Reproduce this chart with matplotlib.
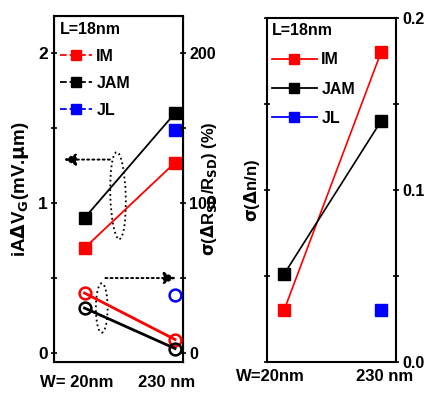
import numpy as np
import matplotlib
matplotlib.use("Agg")
import matplotlib.pyplot as plt
from matplotlib.lines import Line2D
from matplotlib.patches import Ellipse

plt.rcParams['font.family'] = ['Liberation Sans Narrow', 'Liberation Sans', 'DejaVu Sans']
plt.rcParams['font.weight'] = 'bold'
plt.rcParams['mathtext.default'] = 'bf'

# channel width positions and tick labels
w_pos = [0, 1]
left_xlabels = ['W= 20nm', '230 nm']
right_xlabels = ['W=20nm', '230 nm']

# left panel, filled squares: iA dVG (mV.um)
im_avg = [0.70, 1.27]
jam_avg = [0.90, 1.60]
jl_avg = [np.nan, 1.49]

# left panel, open circles: sigma(dRsd/Rsd) (%)
im_rsd = [40, 9]
jam_rsd = [30, 3]
jl_rsd = [np.nan, 39]

# right panel: sigma(dn/n)
im_n = [0.030, 0.180]
jam_n = [0.051, 0.140]
jl_n = [np.nan, 0.030]

series_names = ['IM', 'JAM', 'JL']
colors = ['red', 'black', 'blue']

fig = plt.figure(figsize=(4.26, 3.94), dpi=100)

# ---- left panel ----
ax1 = fig.add_axes([0.1268, 0.0812, 0.3028, 0.878])
for vals, c in zip([im_avg, jam_avg, jl_avg], colors):
    ax1.plot(w_pos, vals, '-', color=c, lw=1.3, marker='s', ms=8.5, mec=c, mfc=c)
ax1.set_xlim(-0.337, 1.088)
ax1.set_ylim(-0.06, 2.247)
ax1.set_yticks([0, 1, 2])
ax1.set_yticks([0.5, 1.5], minor=True)
ax1.set_yticklabels(['0', '1', '2'], fontsize=12.5, fontweight='bold')
ax1.set_xticks([-0.09, 0.91])
ax1.set_xticklabels(left_xlabels, fontsize=12, fontweight='bold')
ax1.tick_params(axis='x', length=0, pad=9)
ax1.tick_params(axis='y', which='both', direction='inout', length=5, width=1.2, pad=2)
ax1.set_ylabel(r'iA$\Delta$V$_G$(mV.$\mu$m)', fontsize=13.5, fontweight='bold', labelpad=5)
for s in ax1.spines.values():
    s.set_linewidth(1.5)

ax1t = ax1.twinx()
for vals, c in zip([im_rsd, jam_rsd, jl_rsd], colors):
    ax1t.plot(w_pos, vals, '-', color=c, lw=2, marker='o', ms=8.5, mec=c,
              mfc='none', mew=1.8)
ax1t.set_ylim(-6, 224.7)
ax1t.set_yticks([0, 100, 200])
ax1t.set_yticks([50, 150], minor=True)
ax1t.set_yticklabels(['0', '100', '200'], fontsize=11.5, fontweight='bold')
ax1t.tick_params(axis='y', which='both', direction='inout', length=5, width=1.2, pad=2)
ax1t.set_ylabel(r'$\sigma$($\Delta$R$_{SD}$/R$_{SD}$) (%)', fontsize=12,
                fontweight='bold', labelpad=-12)

# dotted arrows and ellipses pointing to the relevant axis
arrow_style = dict(arrowstyle='-|>', ls=':', color='black', lw=1.4,
                   mutation_scale=18)
ax1.annotate('', xy=(-0.26, 1.29), xytext=(0.31, 1.29), arrowprops=arrow_style)
ax1.add_patch(Ellipse((0.37, 1.05), 0.17, 0.58, angle=3, fill=False, ls=':',
                      lw=1.3, color='black'))
ax1.annotate('', xy=(1.04, 0.50), xytext=(0.20, 0.50), arrowprops=arrow_style)
ax1.add_patch(Ellipse((0.19, 0.30), 0.13, 0.33, angle=0, fill=False, ls=':',
                      lw=1.3, color='black'))

handles = [Line2D([], [], color=c, ls='--', lw=1.3, marker='s', ms=7, mfc=c, mec=c)
           for c in colors]
leg1 = ax1t.legend(handles, series_names, title='L=18nm', loc='upper left',
                   frameon=False, fontsize=11.5, title_fontsize=11.5,
                   handlelength=2.0, handletextpad=0.3, labelspacing=0.75,
                   borderaxespad=0.0, borderpad=0.35, alignment='left')
leg1.get_title().set_fontweight('bold')

# ---- right panel ----
ax2 = fig.add_axes([0.6268, 0.0812, 0.3028, 0.873])
for vals, c in zip([im_n, jam_n, jl_n], colors):
    ax2.plot(w_pos, vals, '-', color=c, lw=1.2, marker='s', ms=8.5, mec=c, mfc=c)
ax2.set_xlim(-0.175, 1.155)
ax2.set_ylim(0, 0.2)
ax2.set_yticks([0.0, 0.1, 0.2])
ax2.set_yticks([0.05, 0.15], minor=True)
ax2.set_yticklabels(['0.0', '0.1', '0.2'], fontsize=11.5, fontweight='bold')
ax2.yaxis.tick_right()
ax2.tick_params(axis='y', which='both', left=True, right=True, direction='inout',
                length=5, width=1.2, pad=2)
ax2.yaxis.set_label_position('left')
ax2.set_ylabel(r'$\sigma$($\Delta$n/n)', fontsize=12, fontweight='bold', labelpad=1)
ax2.set_xticks([-0.14, 1.04])
ax2.set_xticklabels(right_xlabels, fontsize=12, fontweight='bold')
ax2.tick_params(axis='x', length=0, pad=5)
for s in ax2.spines.values():
    s.set_linewidth(1.5)

handles2 = [Line2D([], [], color=c, ls='-', lw=1.3, marker='s', ms=7, mfc=c, mec=c)
            for c in colors]
leg2 = ax2.legend(handles2, series_names, title='L=18nm', loc='upper left',
                  frameon=False, fontsize=11.5, title_fontsize=11.5,
                  handlelength=2.8, handletextpad=0.3, labelspacing=0.9,
                  borderaxespad=0.0, borderpad=0.3, alignment='left')
leg2.get_title().set_fontweight('bold')

fig.savefig('out.png', dpi=100)
